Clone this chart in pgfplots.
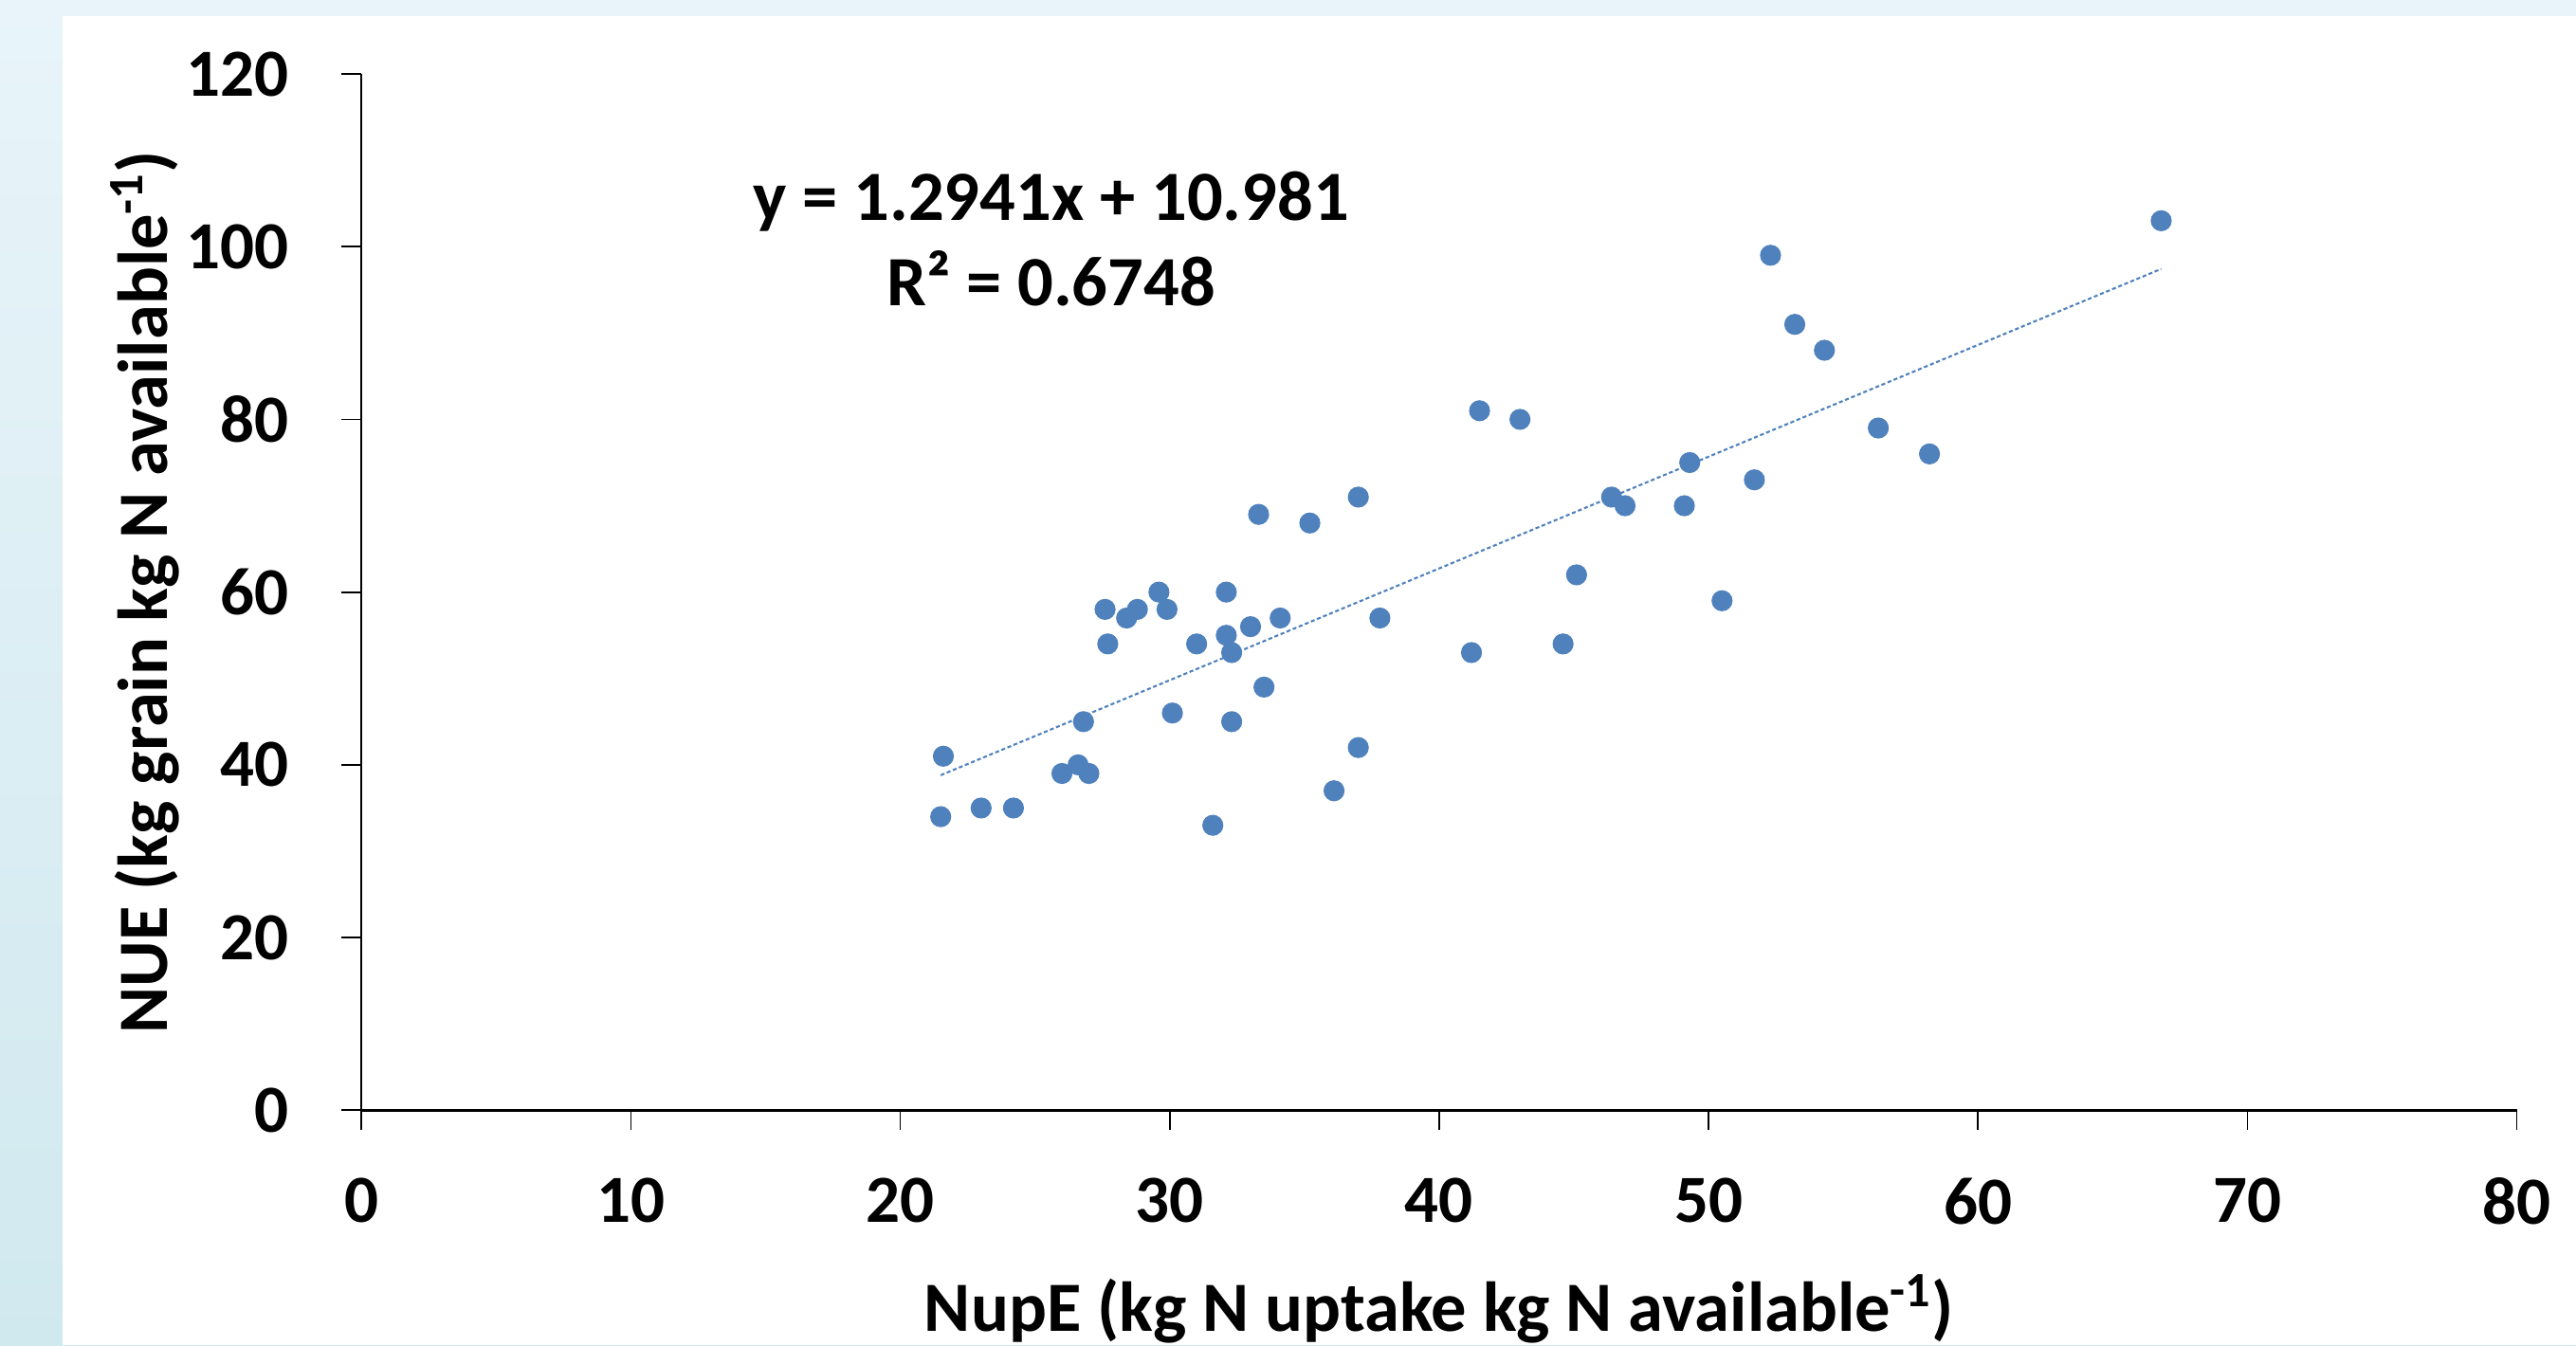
\documentclass[border=0pt]{standalone}
\usepackage{fontspec}
\setmainfont{Carlito}
\usepackage{pgfplots}
\pgfplotsset{compat=1.18}
\definecolor{ptblue}{HTML}{4F81BD}
\definecolor{bgtop}{HTML}{E8F4F9}
\definecolor{bgbot}{HTML}{D0E9EF}
\newcommand{\tickfont}{\fontsize{20.5}{24}\selectfont\bfseries}
\newcommand{\chartfont}{\fontsize{21.5}{25}\selectfont\bfseries}
\begin{document}
\begin{tikzpicture}
\shade[top color=bgtop, bottom color=bgbot] (0,0) rectangle (784pt,409.5pt);
\fill[white] (19pt,0) rectangle (784pt,404.5pt);
\begin{axis}[
  at={(110pt,71.5pt)}, anchor=south west,
  scale only axis, width=656pt, height=315.5pt,
  xmin=0, xmax=80, ymin=0, ymax=120,
  enlargelimits=false,
  axis x line=bottom, axis y line=left,
  axis line style={-, line width=0.7pt},
  tick align=outside,
  major tick length=6pt,
  tick style={line width=0.5pt, black},
  xtick={0,10,...,80}, ytick={0,20,...,120},
  /pgf/number format/assume math mode=true,
  tick label style={font=\tickfont},
  xticklabel style={yshift=-11pt},
  yticklabel style={xshift=-12.5pt},
  label style={font=\chartfont},
  xlabel={NupE (kg N uptake kg N available\textsuperscript{-1})},
  ylabel={NUE (kg grain kg N available\textsuperscript{-1})},
  xlabel style={at={([yshift=-46.5pt]axis description cs:0.5,0)}, anchor=north},
  ylabel style={at={([xshift=-66pt]axis description cs:0,0.5)}, anchor=center},
  clip=false,
]
\addplot[only marks, mark=*, mark size=3pt, mark options={fill=ptblue, draw=ptblue}] coordinates {
(21.6,41) (21.5,34) (23.0,35) (24.2,35) (26.0,39) (26.6,40) (27.0,39) (26.8,45)
(27.6,58) (27.7,54) (28.4,57) (28.8,58) (29.6,60) (29.9,58) (30.1,46) (31.0,54)
(31.6,33) (32.1,60) (32.1,55) (32.3,53) (32.3,45) (33.0,56) (33.3,69) (33.5,49)
(34.1,57) (35.2,68) (36.1,37) (37.0,71) (37.0,42) (37.8,57) (41.2,53) (41.5,81)
(43.0,80) (44.6,54) (45.1,62) (46.4,71) (46.9,70) (49.1,70) (49.3,75) (50.5,59)
(51.7,73) (52.3,99) (53.2,91) (54.3,88) (56.3,79) (58.2,76) (66.8,103)
};
\addplot[ptblue, line width=0.6pt, dash pattern=on 1.2pt off 0.8pt] coordinates {
(21.5,38.80) (66.8,97.42)
};
\node[font=\chartfont, align=center, text=black] at (axis cs:25.6,100.9) {y = 1.2941x + 10.981\\[1pt]R² = 0.6748};
\end{axis}
\pgfresetboundingbox
\useasboundingbox (0,0) rectangle (784pt,409.5pt);
\end{tikzpicture}
\end{document}
